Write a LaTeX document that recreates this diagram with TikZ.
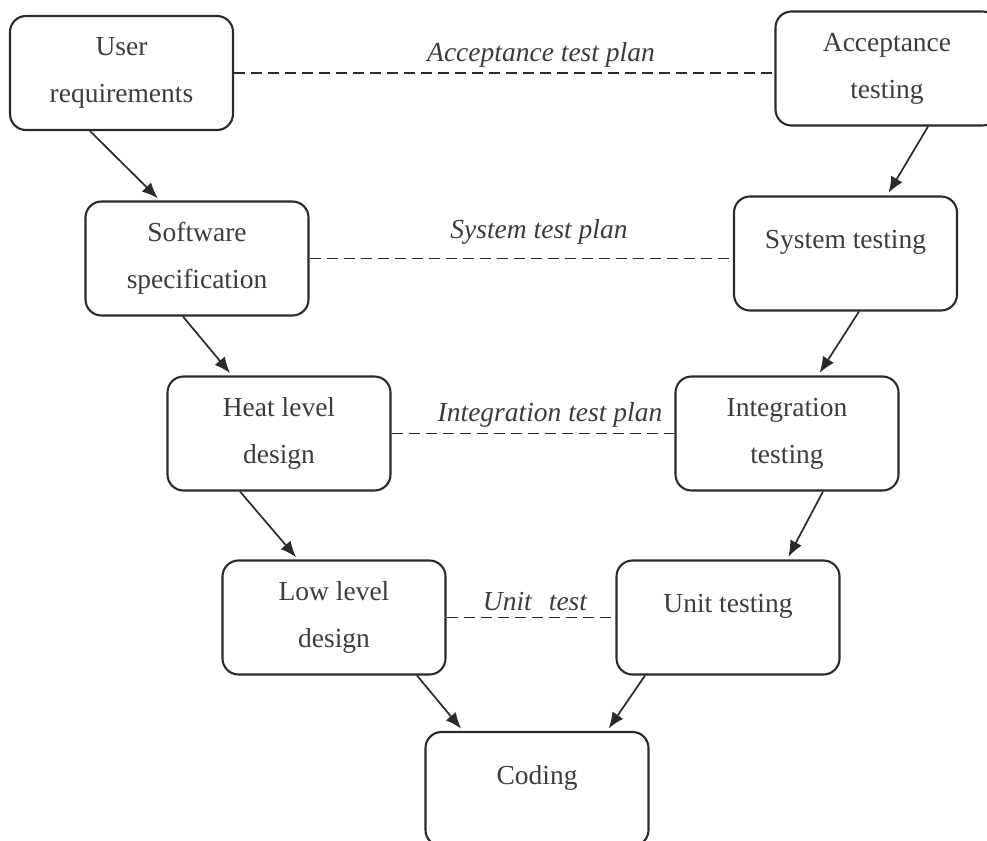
\documentclass[tikz,border=0pt]{standalone}
\usepackage{fontspec}
\setmainfont{Liberation Serif}
\usetikzlibrary{arrows.meta}
\definecolor{ink}{HTML}{2A2A2A}
\definecolor{txt}{HTML}{3C3C3C}
\begin{document}
\begin{tikzpicture}[x=1pt,y=-1pt,
  stage/.style={draw=ink, line width=2.1pt, rounded corners=16pt,
    minimum width=223pt, minimum height=114pt, inner sep=0pt,
    align=center, text=txt, font=\fontsize{27.5}{47}\selectfont},
  oneline/.style={label={[yshift=11.5pt, text=txt, font=\fontsize{27.5}{33}\selectfont]center:#1}},
  flow/.style={draw=ink, line width=1.7pt, -{Latex[length=16pt,width=13pt]}, shorten >=3pt},
  plan/.style={draw=ink, line width=1.8pt, dash pattern=on 11pt off 6pt},
  plantext/.style={text=txt, font=\fontsize{27.5}{33}\selectfont\itshape, inner sep=0pt}]

\useasboundingbox (0,0) rectangle (987,840);
\clip (0,0) rectangle (987,840);

% left arm of the V
\node[stage] (u) at (121.5,73)  {User\\requirements};
\node[stage] (s) at (197,258.5) {Software\\specification};
\node[stage] (h) at (279,433.5) {Heat level\\design};
\node[stage] (l) at (334,617.5) {Low level\\design};

% right arm of the V
\node[stage] (a)  at (887,68.5)   {Acceptance\\testing};
\node[stage, oneline={System testing}] (st) at (845.5,253.5) {};
\node[stage] (i)  at (787,433.5)  {Integration\\testing};
\node[stage, oneline={Unit testing}] (ut) at (728,617.5) {};

% bottom of the V
\node[stage, oneline={Coding}] (c) at (537,789) {};

% test plans linking each level
\draw[plan] (u.east) -- (u.east -| a.west);
\draw[plan] (s.east) -- (s.east -| st.west);
\draw[plan] (h.east) -- (h.east -| i.west);
\draw[plan] (l.east) -- (l.east -| ut.west);

\node[plantext] (pa) at (541,55)  {Acceptance test plan};
\node[plantext] (ps) at (539,232) {System test plan};
\node[plantext] (pi) at (550,415) {Integration test plan};
\node[plantext] (pu) at (535,602) {Unit\hspace{0.62em}test};

% downward flow on the left
\draw[flow] ([xshift=-31.5pt]u.south) -- ([xshift=-37pt]s.north);
\draw[flow] ([xshift=-14pt]s.south)   -- ([xshift=-47pt]h.north);
\draw[flow] ([xshift=-39pt]h.south)   -- ([xshift=-36pt]l.north);
\draw[flow] ([xshift=83pt]l.south)    -- ([xshift=-74pt]c.north);

% flow on the right
\draw[flow] ([xshift=41pt]a.south)    -- ([xshift=41.5pt]st.north);
\draw[flow] ([xshift=13.5pt]st.south) -- ([xshift=31pt]i.north);
\draw[flow] ([xshift=36pt]i.south)    -- ([xshift=59pt]ut.north);
\draw[flow] ([xshift=-83pt]ut.south)  -- ([xshift=70pt]c.north);
\end{tikzpicture}
\end{document}
